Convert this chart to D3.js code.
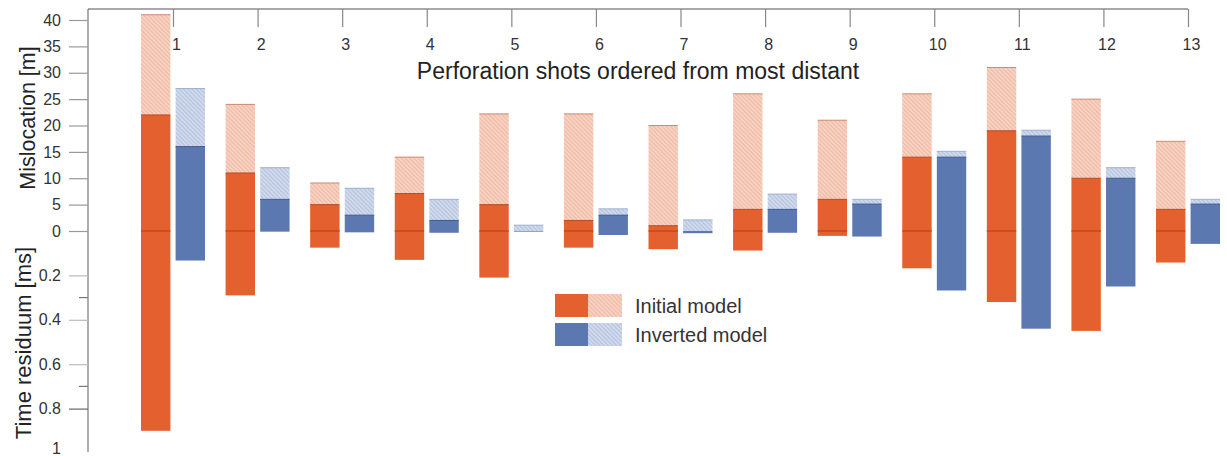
<!DOCTYPE html>
<html>
<head>
<meta charset="utf-8">
<script src="https://cdn.jsdelivr.net/npm/d3@7"></script>
<style>
  html, body { margin: 0; padding: 0; background: #fff; }
  svg { display: block; font-family: "Liberation Sans", Arial, sans-serif; }
</style>
</head>
<body>
<svg id="chart" width="1227" height="456"></svg>
<script>
// Perforation shots, ordered from the most distant one
const shots = ["1","2","3","4","5","6","7","8","9","10","11","12","13"];

// Mislocation [m]: mean (solid) and maximum (hatched) per shot
const initialMean    = [22, 11, 5, 7.1, 5, 2, 1, 4.1, 6, 14, 19, 10, 4.1];
const initialMax     = [41, 24, 9.1, 14, 22.2, 22.2, 20, 26, 21, 26, 31, 25, 17];
const invertedMean   = [16, 6, 3, 2, 0, 3, 0, 4.1, 5.1, 14, 18, 10, 5.1];
const invertedMax    = [27, 12, 8.1, 6, 1.1, 4.2, 2.1, 7, 6, 15.1, 19.1, 12, 6];

// Time residuum [ms] per shot
const initialTime    = [0.9, 0.29, 0.075, 0.13, 0.21, 0.075, 0.082, 0.088, 0.022, 0.168, 0.32, 0.45, 0.142];
const invertedTime   = [0.133, 0.003, 0.006, 0.008, 0.003, 0.018, 0.01, 0.008, 0.025, 0.268, 0.44, 0.25, 0.058];

const mislocationTicks = [0, 5, 10, 15, 20, 25, 30, 35, 40];
const timeTicks = [0.2, 0.4, 0.6, 0.8, 1];
const timeMinorTicks = [0.3, 0.7];

const models = [
  { key: "initial",  label: "Initial model",  mean: initialMean,  max: initialMax,  time: initialTime,
    solid: "#E4602F", edge: "#B94A22", hatch: "hatch-initial" },
  { key: "inverted", label: "Inverted model", mean: invertedMean, max: invertedMax, time: invertedTime,
    solid: "#5B78B1", edge: "#3E5A8F", hatch: "hatch-inverted" }
];

const svg = d3.select("#chart");

// Hatch fills for the maximum-mislocation part of the bars
const defs = svg.append("defs");
function hatch(id, bg, line) {
  const p = defs.append("pattern")
    .attr("id", id)
    .attr("patternUnits", "userSpaceOnUse")
    .attr("width", 3).attr("height", 3)
    .attr("patternTransform", "rotate(-45)");
  p.append("rect").attr("width", 3).attr("height", 3).attr("fill", bg);
  p.append("line").attr("x1", 0.8).attr("y1", 0).attr("x2", 0.8).attr("y2", 3)
    .attr("stroke", line).attr("stroke-width", 1);
}
hatch("hatch-initial", "#F9D6C7", "#EDB097");
hatch("hatch-inverted", "#D5DEEE", "#A8B9D8");

// Scales: mislocation grows upward from the zero line, time residuum grows downward
const x = d3.scalePoint().domain(shots).range([173, 1188]);
const sub = d3.scaleBand().domain(models.map(m => m.key)).range([-32, 32]).paddingInner(0.15);
const yM = d3.scaleLinear().domain([0, 40]).range([231, 20]);
const yT = d3.scaleLinear().domain([0, 1]).range([231, 453]);

const axisX = 88, topY = 9;

// Bars
models.forEach(m => {
  const g = svg.append("g");
  const rows = shots.map((s, i) => ({ s, mean: m.mean[i], max: m.max[i], time: m.time[i] }));
  const bx = d => x(d.s) + sub(m.key);
  const bw = sub.bandwidth();

  // hatched part: mean -> max mislocation
  g.selectAll("rect.h").data(rows).join("rect")
    .attr("class", "h")
    .attr("x", bx).attr("width", bw)
    .attr("y", d => yM(d.max))
    .attr("height", d => yM(d.mean) - yM(d.max))
    .attr("fill", `url(#${m.hatch})`);
  g.selectAll("line.ht").data(rows).join("line")
    .attr("class", "ht")
    .attr("x1", bx).attr("x2", d => bx(d) + bw)
    .attr("y1", d => yM(d.max)).attr("y2", d => yM(d.max))
    .attr("stroke", m.key === "initial" ? "#C98B72" : "#9DB0D3").attr("stroke-width", 1);

  // solid part: mean mislocation down to time residuum
  g.selectAll("rect.s").data(rows).join("rect")
    .attr("class", "s")
    .attr("x", bx).attr("width", bw)
    .attr("y", d => yM(d.mean))
    .attr("height", d => yT(d.time) - yM(d.mean))
    .attr("fill", m.solid);
  g.selectAll("line.st").data(rows.filter(d => d.mean > 0)).join("line")
    .attr("class", "st")
    .attr("x1", bx).attr("x2", d => bx(d) + bw)
    .attr("y1", d => yM(d.mean)).attr("y2", d => yM(d.mean))
    .attr("stroke", m.edge).attr("stroke-width", 1);

  if (m.key === "initial") {
    g.selectAll("line.zero").data(rows).join("line")
      .attr("class", "zero")
      .attr("x1", bx).attr("x2", d => bx(d) + bw)
      .attr("y1", yM(0)).attr("y2", yM(0))
      .attr("stroke", "#C4481D").attr("stroke-width", 1.5);
  }
});

// Frame: left axis line and top line
svg.append("line").attr("x1", axisX).attr("x2", axisX).attr("y1", topY).attr("y2", 452)
  .attr("stroke", "#777").attr("stroke-width", 1.2);
svg.append("line").attr("x1", axisX).attr("x2", x("13")).attr("y1", topY).attr("y2", topY)
  .attr("stroke", "#555").attr("stroke-width", 1.2);

// Shot numbers along the top
const gx = svg.append("g").attr("transform", `translate(0,${topY})`)
  .call(d3.axisBottom(x).tickSize(18).tickPadding(12));
gx.select(".domain").remove();
gx.selectAll(".tick line").attr("stroke", "#888").attr("stroke-width", 1.2);
gx.selectAll(".tick text").attr("fill", "#333").style("font-size", "16px").attr("dx", 3);

// Mislocation axis
const gm = svg.append("g").attr("transform", `translate(${axisX},0)`)
  .call(d3.axisLeft(yM).tickValues(mislocationTicks).tickSize(19).tickPadding(8));
gm.select(".domain").remove();
gm.selectAll(".tick line").attr("stroke", "#999").attr("stroke-width", 1.2);
gm.selectAll(".tick text").attr("fill", "#333").style("font-size", "16px");

// Time residuum axis
const gt = svg.append("g").attr("transform", `translate(${axisX},0)`)
  .call(d3.axisLeft(yT).tickValues(timeTicks).tickSize(19).tickPadding(8)
    .tickFormat(d => d === 1 ? "1" : d3.format(".1f")(d)));
gt.select(".domain").remove();
gt.selectAll(".tick line").attr("stroke", d => d === 0.8 ? "#666" : "#bbb").attr("stroke-width", 1.2)
  .attr("x2", d => d === 1 ? 0 : -19);
gt.selectAll(".tick text").attr("fill", "#333").style("font-size", "16px")
  .attr("dy", d => d === 1 ? "0.05em" : "0.32em");
svg.append("g").selectAll("line").data(timeMinorTicks).join("line")
  .attr("x1", axisX - 9).attr("x2", axisX)
  .attr("y1", d => yT(d)).attr("y2", d => yT(d))
  .attr("stroke", "#777").attr("stroke-width", 1.2);

// Axis titles
svg.append("text")
  .attr("transform", `translate(35,118) rotate(-90)`)
  .attr("text-anchor", "middle").attr("fill", "#222")
  .style("font-size", "21.5px").text("Mislocation [m]");
svg.append("text")
  .attr("transform", `translate(31,343) rotate(-90)`)
  .attr("text-anchor", "middle").attr("fill", "#222")
  .style("font-size", "22px").text("Time residuum [ms]");
svg.append("text")
  .attr("x", 638).attr("y", 79)
  .attr("text-anchor", "middle").attr("fill", "#222")
  .style("font-size", "23px").text("Perforation shots ordered from most distant");

// Legend
const legend = svg.append("g").attr("transform", "translate(555,294)");
models.forEach((m, i) => {
  const row = legend.append("g").attr("transform", `translate(0,${i * 29})`);
  row.append("rect").attr("width", 33).attr("height", 23).attr("fill", m.solid);
  row.append("rect").attr("x", 33).attr("width", 34).attr("height", 23).attr("fill", `url(#${m.hatch})`);
  row.append("text").attr("x", 80).attr("y", 19).attr("fill", "#333")
    .style("font-size", "20px").text(m.label);
});
</script>
</body>
</html>
